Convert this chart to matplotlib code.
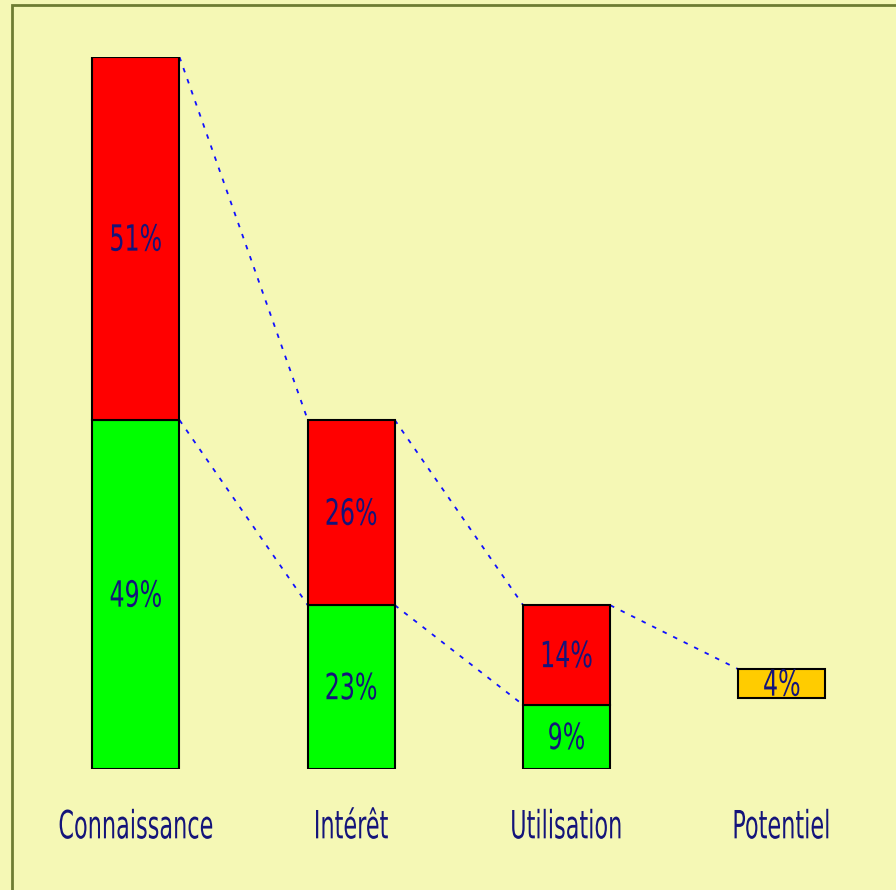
import matplotlib
matplotlib.use("Agg")
import matplotlib.pyplot as plt
from matplotlib.patches import Rectangle
from matplotlib.patheffects import AbstractPathEffect
from matplotlib.transforms import Affine2D
from matplotlib import font_manager

# funnel data (percent)
categories = ["Connaissance", "Intérêt", "Utilisation", "Potentiel"]
green_vals = [49, 23, 9]
red_vals = [51, 26, 14]
potential_val = 4
potential_base = 10

# prefer a narrow face if one is installed
narrow = [f for f in font_manager.fontManager.ttflist
          if ("Narrow" in f.name or "Condensed" in f.name
              or str(f.stretch) in ("condensed", "semi-condensed"))
          and f.style == "normal" and f.weight in (400, "normal", "regular")]
narrow.sort(key=lambda f: "DejaVu" not in f.name)
if narrow:
    prop = font_manager.FontProperties(fname=narrow[0].fname)
else:
    prop = font_manager.FontProperties(family="DejaVu Sans")


class Squeeze(AbstractPathEffect):
    """Compress glyphs horizontally around the centre of the string."""

    def __init__(self, sx):
        super().__init__()
        self._sx = sx

    def draw_path(self, renderer, gc, tpath, affine, rgbFace=None):
        xs = tpath.vertices[:, 0]
        cx = (xs.min() + xs.max()) / 2
        squeeze = Affine2D().translate(-cx, 0).scale(self._sx, 1).translate(cx, 0)
        renderer.draw_path(gc, tpath, squeeze + affine, rgbFace)


bg = "#f5f8b5"
navy = "#14147a"
dot_blue = "#1010ff"

fig = plt.figure(figsize=(8.96, 8.90), dpi=100, facecolor=bg)
ax = fig.add_axes([0.0316, 0.1360, 0.9613, 0.8])
ax.set_facecolor(bg)
ax.set_xlim(-0.5, 3.5)
ax.set_ylim(0, 100)
ax.axis("off")

width = 0.404
x = list(range(len(categories)))
nudge = 0.3  # labels sit a touch below the segment middle
val_style = dict(ha="center", va="center", color=navy, fontproperties=prop,
                 fontsize=26, zorder=3, path_effects=[Squeeze(0.73)])

for i in range(3):
    ax.bar(x[i], green_vals[i], width, color="#00ff00", edgecolor="black", linewidth=1.5, zorder=2)
    ax.bar(x[i], red_vals[i], width, bottom=green_vals[i], color="#ff0000",
           edgecolor="black", linewidth=1.5, zorder=2)
    ax.text(x[i], green_vals[i] / 2 - nudge, f"{green_vals[i]}%", **val_style)
    ax.text(x[i], green_vals[i] + red_vals[i] / 2 - nudge, f"{red_vals[i]}%", **val_style)

ax.bar(x[3], potential_val, width, bottom=potential_base, color="#ffcc00",
       edgecolor="black", linewidth=1.5, zorder=2)
ax.text(x[3], potential_base + potential_val / 2 - nudge, f"{potential_val}%", **val_style)

# dotted connectors between successive stages
totals = [g + r for g, r in zip(green_vals, red_vals)]
links = [
    (0, totals[0], 1, totals[1]),
    (0, green_vals[0], 1, green_vals[1]),
    (1, totals[1], 2, totals[2]),
    (1, green_vals[1], 2, green_vals[2]),
    (2, totals[2], 3, potential_base + potential_val),
]
for x0, y0, x1, y1 in links:
    ax.plot([x0 + width / 2, x1 - width / 2], [y0, y1], color=dot_blue,
            linewidth=1.3, linestyle=(0, (2.5, 4)), zorder=1)

for i, name in enumerate(categories):
    ax.text(x[i], -8.2, name, ha="center", va="center", color=navy,
            fontproperties=prop, fontsize=28, clip_on=False,
            path_effects=[Squeeze(0.64)])

# olive frame running off the right and bottom edges
fig.patches.append(Rectangle((12 / 896, -0.1), 1.2, 885 / 890 + 0.1,
                             transform=fig.transFigure, fill=False,
                             edgecolor="#6e7d32", linewidth=2))

fig.savefig("out.png", dpi=100, facecolor=bg)
